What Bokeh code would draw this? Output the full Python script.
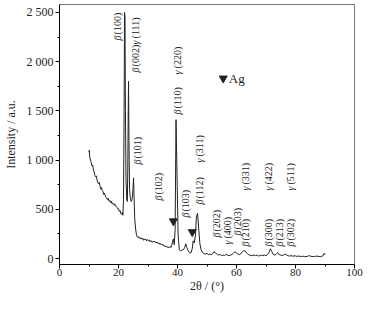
from bokeh.plotting import figure
from bokeh.models import FixedTicker, ColumnDataSource
from bokeh.core.properties import value
from bokeh.embed import file_html
from bokeh.resources import INLINE

# ---- data ----
two_theta = [10.0, 10.1, 10.25, 10.5, 10.75, 11.0, 11.25, 11.5, 11.75, 12.0, 12.25, 12.5, 12.75,
             13.0, 13.25, 13.5, 13.75, 14.0, 14.25, 14.5, 14.75, 15.0, 15.25, 15.5, 15.75, 16.0,
             16.25, 16.5, 16.75, 17.0, 17.25, 17.5, 17.75, 18.0, 18.25, 18.5, 18.75, 19.0, 19.25,
             19.5, 19.75, 20.0, 20.25, 20.5, 20.75, 21.0, 21.25, 21.5, 21.7, 21.9, 22.05, 22.2,
             22.35, 22.55, 22.8, 23.0, 23.15, 23.3, 23.4, 23.55, 23.75, 24.0, 24.3, 24.6, 24.9,
             25.1, 25.3, 25.5, 25.8, 26.1, 26.5, 26.75, 27.0, 27.25, 27.5, 27.75, 28.0, 28.25,
             28.5, 28.75, 29.0, 29.25, 29.5, 29.75, 30.0, 30.25, 30.5, 30.75, 31.0, 31.25, 31.5,
             31.75, 32.0, 32.25, 32.5, 32.75, 33.0, 33.25, 33.5, 33.75, 34.0, 34.25, 34.5, 34.75,
             35.0, 35.25, 35.5, 35.75, 36.0, 36.25, 36.5, 36.75, 37.0, 37.25, 37.5, 37.75,
             38.0, 38.3, 38.6, 38.9, 39.2, 39.5, 39.8, 40.2, 40.6, 41.0, 41.5, 42.0, 42.4, 42.8,
             43.2, 43.6, 44.0, 44.5, 45.0, 45.3, 45.7, 46.1, 46.4, 46.8, 47.2, 47.6, 48.0, 48.5,
             49.0, 49.5, 50.0, 50.5, 51.0, 51.5, 52.0, 52.4, 53.0, 53.5, 54.0, 54.5, 55.0, 55.5,
             56.0, 56.5, 57.0, 57.5, 58.0, 58.5, 59.0, 59.5, 60.0, 60.5, 61.0, 61.5, 62.0, 62.5,
             63.0, 63.5, 64.0, 64.5, 65.0, 66.0, 66.5, 67.0, 67.5, 68.0, 68.5, 69.0, 69.5, 70.0,
             70.5, 71.0, 71.5, 72.0, 72.5, 73.0, 73.5, 74.0, 74.5, 75.0, 75.5, 76.0, 76.5, 77.0,
             77.5, 78.0, 78.5, 79.0, 80.0, 80.5, 81.0, 82.0, 82.5, 83.0, 84.0, 84.5, 85.0, 86.0,
             86.5, 87.0, 88.0, 88.5, 89.0, 89.4, 89.7, 90.0]
intensity = [1080, 1100, 1030, 1000, 975, 940, 950, 900, 880, 845, 830, 840, 795,
             770, 760, 775, 735, 705, 720, 690, 680, 650, 665, 640, 620, 615,
             600, 615, 585, 590, 570, 585, 560, 565, 550, 558, 538, 545, 528,
             520, 505, 505, 480, 490, 462, 450, 468, 440, 600, 1500, 2500, 2450,
             1500, 800, 600, 580, 900, 1500, 1800, 1200, 700, 620, 580, 600, 700,
             820, 600, 400, 300, 240, 215, 222, 206, 214, 200, 210, 196, 205,
             186, 200, 190, 198, 180, 194, 186, 178, 190, 172, 182, 170, 166,
             178, 168, 176, 162, 170, 158, 166, 150, 158, 146, 152, 140, 146,
             134, 140, 126, 132, 120, 126, 114, 120, 108, 116, 124, 112, 130,
             170, 200, 140, 300, 1410, 900, 250, 90, 80, 86, 90, 110, 150, 110,
             80, 62, 55, 100, 180, 160, 240, 420, 460, 300, 150, 90, 60, 50,
             46, 52, 40, 46, 40, 50, 70, 56, 40, 36, 42, 30, 36, 30,
             45, 35, 30, 36, 42, 55, 70, 55, 46, 40, 50, 70, 80, 76,
             56, 40, 36, 30, 36, 30, 36, 26, 30, 36, 30, 36, 30, 40,
             60, 100, 70, 40, 36, 46, 60, 40, 36, 30, 36, 46, 36, 30,
             25, 30, 25, 28, 22, 26, 20, 25, 20, 22, 30, 25, 20, 22,
             25, 22, 20, 25, 30, 55, 40, 25]

ag_theta = [38.6, 45.0]
ag_intensity = [380, 270]

label_greek = ["β", "γ", "β", "γ", "β", "β", "β", "β", "γ", "β",
               "β", "γ", "β", "β", "γ", "β", "γ", "β", "β", "γ"]
label_hkl = ["(100)", "(111)", "(002)", "(220)", "(110)", "(101)", "(102)", "(103)", "(311)", "(112)",
             "(202)", "(400)", "(203)", "(210)", "(331)", "(300)", "(422)", "(213)", "(302)", "(511)"]
label_x = [19.7, 25.8, 25.8, 40.1, 40.1, 26.6, 33.4, 42.8, 47.3, 47.3,
           53.3, 56.9, 60.3, 63.0, 63.0, 70.9, 70.9, 74.5, 78.3, 78.3]
label_y = [2215, 2175, 1890, 1870, 1463, 955, 589, 417, 976, 549,
           213, 142, 234, 122, 691, 122, 691, 122, 122, 691]

y_ticks = [0, 500, 1000, 1500, 2000, 2500]
y_tick_labels = ["0", "500", "1 000", "1 500", "2 000", "2 500"]
x_ticks = [0, 20, 40, 60, 80, 100]

FONT = "Liberation Serif"
INK = "#222222"

p = figure(width=368, height=296, x_range=(0, 100), y_range=(-60, 2580),
           output_backend="svg", toolbar_location=None,
           min_border_left=55, min_border_right=14, min_border_top=4, min_border_bottom=32)
p.grid.visible = False
p.outline_line_color = "#777777"
p.background_fill_color = "white"

p.line(two_theta, intensity, line_color=INK, line_width=1)
p.scatter(ag_theta, ag_intensity, marker="inverted_triangle", size=8,
          fill_color=INK, line_color=INK)

# legend
p.scatter([55.5], [1830], marker="inverted_triangle", size=8, fill_color=INK, line_color=INK)
p.text([57.4], [1830], text=["Ag"], text_font=value(FONT), text_font_size="13px",
       text_baseline="middle", text_align="left", text_color=INK)

# rotated peak labels
src = ColumnDataSource(dict(x=label_x, y=label_y, g=label_greek, h=label_hkl))
p.text(x="x", y="y", text="g", source=src, angle=1.5708, text_font=value(FONT),
       text_font_size="10px", text_font_style="italic", text_align="left",
       text_baseline="middle", text_color=INK)
p.text(x="x", y="y", text="h", source=src, angle=1.5708, text_font=value(FONT),
       text_font_size="10px", text_align="left", text_baseline="middle",
       text_color=INK, y_offset=-6)

for ax in (p.xaxis[0], p.yaxis[0]):
    ax.axis_line_color = "black"
    ax.major_tick_line_color = "black"
    ax.minor_tick_line_color = "black"
    ax.major_tick_in = 0
    ax.major_tick_out = 4
    ax.minor_tick_in = 0
    ax.minor_tick_out = 2
    ax.major_label_text_font = FONT
    ax.major_label_text_font_size = "12px"
    ax.major_label_text_color = INK
    ax.axis_label_text_font = FONT
    ax.axis_label_text_font_size = "12px"
    ax.axis_label_text_font_style = "normal"
    ax.axis_label_text_color = INK

p.xaxis.major_label_text_font_size = "11px"
p.xaxis.ticker = FixedTicker(ticks=x_ticks, minor_ticks=[10, 30, 50, 70, 90])
p.yaxis.ticker = FixedTicker(ticks=y_ticks, minor_ticks=[250, 750, 1250, 1750, 2250])
p.yaxis.major_label_overrides = {t: s for t, s in zip(y_ticks, y_tick_labels)}
p.xaxis.axis_label = "2θ / (°)"
p.yaxis.axis_label = "Intensity / a.u."
p.xaxis.major_label_standoff = 0
p.yaxis.major_label_standoff = 2
p.xaxis.axis_label_standoff = 0
p.yaxis.axis_label_standoff = 6

open("out.html", "w").write(file_html(p, INLINE))
